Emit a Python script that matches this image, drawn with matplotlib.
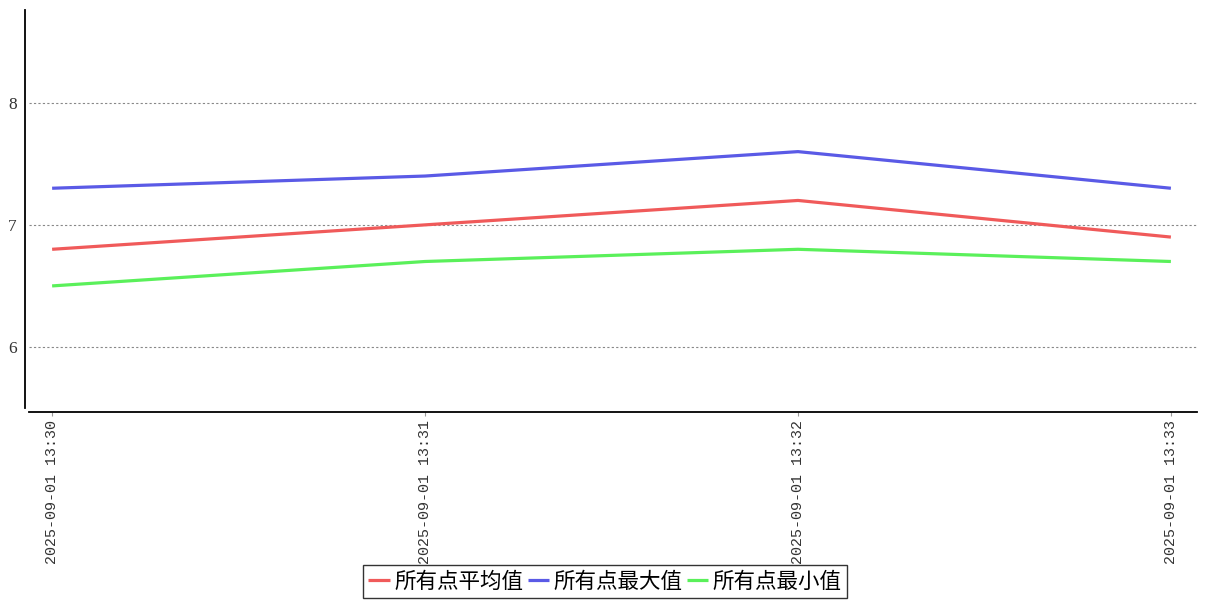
import matplotlib
matplotlib.use("Agg")
import matplotlib.pyplot as plt

plt.rcParams['font.family'] = ['Noto Sans CJK SC', 'DejaVu Sans']

categories = ["2025-09-01 13:30", "2025-09-01 13:31", "2025-09-01 13:32", "2025-09-01 13:33"]
avg_vals = [6.8, 7.0, 7.2, 6.9]
max_vals = [7.3, 7.4, 7.6, 7.3]
min_vals = [6.5, 6.7, 6.8, 6.7]
series_names = ["所有点平均值", "所有点最大值", "所有点最小值"]
colors = ["#f05a5a", "#5a5ae6", "#5af05a"]
yticks = [6, 7, 8]

W, H = 1207, 600
fig = plt.figure(figsize=(W / 100, H / 100), dpi=100)
left, right, top, bottom = 29, 1197, 10, 408
ax = fig.add_axes([left / W, 1 - bottom / H, (right - left) / W, (bottom - top) / H])

x = list(range(len(categories)))
for vals, name, c in zip([avg_vals, max_vals, min_vals], series_names, colors):
    ax.plot(x, vals, color=c, lw=2.3, label=name, solid_capstyle='butt')

ax.set_xlim(-0.062, 3.07)
ax.set_ylim(5.5, 8.76)
ax.set_yticks(yticks)
ax.set_yticklabels([str(t) for t in yticks])
ax.set_xticks(x)
ax.set_xticklabels(categories)
ax.grid(axis='y', color='#888888', linestyle=(0, (2, 2)), linewidth=0.8)
ax.set_axisbelow(True)
for s in ['top', 'right']:
    ax.spines[s].set_visible(False)
ax.spines['left'].set_position(('outward', 3))
ax.spines['bottom'].set_position(('outward', 3))
ax.spines['left'].set_linewidth(1.3)
ax.spines['bottom'].set_linewidth(1.3)
ax.tick_params(axis='y', length=0, pad=6, colors='#333333')
ax.tick_params(axis='x', length=3, width=0.8, color='#999999', pad=3, labelcolor='#333333')

for lab in ax.get_xticklabels():
    lab.set_rotation(90)
    lab.set_fontfamily(['Liberation Mono'])
    lab.set_fontsize(10.8)
for lab in ax.get_yticklabels():
    lab.set_fontfamily(['Liberation Serif'])
    lab.set_fontsize(12.5)

leg = fig.legend(loc='lower center', bbox_to_anchor=(605 / W, 2 / H), ncol=3,
                 frameon=True, fancybox=False, fontsize=15.5, handlelength=1.0,
                 handletextpad=0.2, columnspacing=0.2, borderpad=0.25, borderaxespad=0)
leg.get_frame().set_edgecolor('black')
leg.get_frame().set_linewidth(1.0)

fig.savefig("out.png", dpi=100)
